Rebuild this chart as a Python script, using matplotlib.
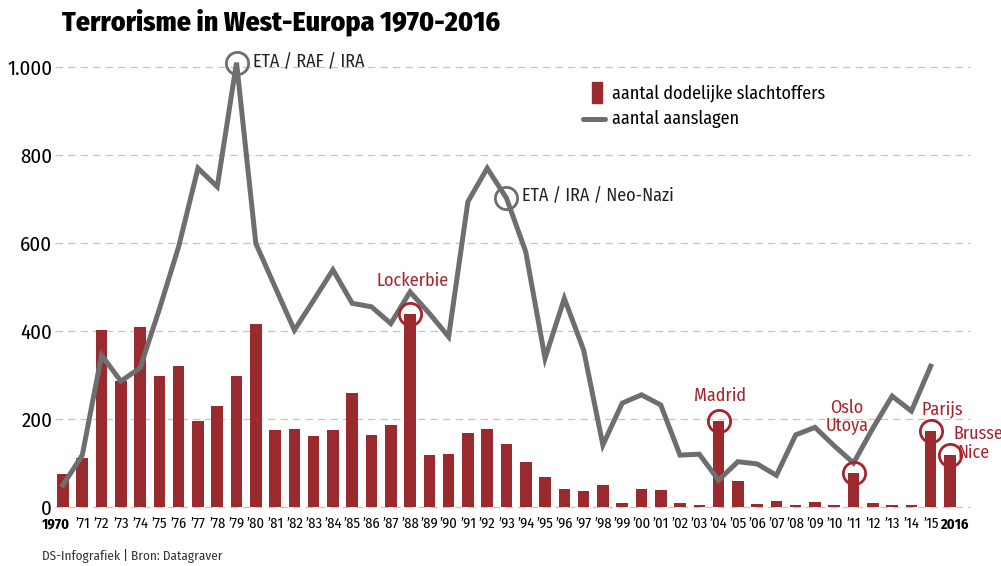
import matplotlib
matplotlib.use('Agg')
import matplotlib.pyplot as plt
from matplotlib import font_manager
from matplotlib.patches import Rectangle
from matplotlib.lines import Line2D

# pick a condensed sans if one is installed
installed = {f.name for f in font_manager.fontManager.ttflist}
font = 'DejaVu Sans'
for cand in ['Fira Sans Condensed', 'Barlow Semi Condensed', 'Roboto Condensed',
             'Archivo Narrow', 'PT Sans Narrow', 'Liberation Sans Narrow', 'Roboto']:
    if cand in installed:
        font = cand
        break
plt.rcParams['font.family'] = [font, 'DejaVu Sans']

# Data
years = list(range(1970, 2017))
deaths = [75, 111, 402, 286, 409, 298, 320, 195, 230, 298,
          416, 175, 177, 161, 175, 259, 164, 186, 439, 118,
          120, 168, 177, 143, 103, 68, 40, 37, 51, 10,
          40, 38, 8, 4, 195, 59, 6, 14, 5, 11,
          5, 78, 8, 4, 4, 172, 118]
attack_years = list(range(1970, 2016))
attacks = [50, 118, 345, 286, 316, 450, 592, 770, 728, 1010,
           599, 500, 402, 470, 539, 463, 455, 417, 489, 440,
           387, 694, 770, 702, 580, 338, 474, 357, 141, 236,
           255, 232, 118, 120, 61, 103, 98, 72, 164, 181,
           139, 100, 179, 252, 218, 320]
tick_labels = ['1970'] + ['\u2019%02d' % (y % 100) for y in years[1:-1]] + ['2016']

red = '#a8232b'
bar_red = '#992b2e'
grey = '#6e6e6e'

fig = plt.figure(figsize=(10.01, 5.66), dpi=100)
ax = fig.add_axes([55 / 1001, 56 / 566, 915 / 1001, 450 / 566])

ax.bar(years, deaths, width=0.6, color=bar_red, zorder=2)
ax.plot(attack_years, attacks, color=grey, linewidth=3.6, solid_joinstyle='miter', zorder=3)

ax.set_xlim(1969.585, 2017.04)
ax.set_ylim(-6.8, 1016)
ax.set_yticks([0, 200, 400, 600, 800, 1000])
ax.set_yticklabels(['0', '200', '400', '600', '800', '1.000'], fontsize=15)
ax.set_xticks(years)
# first and last year are bold and nudged outwards, drawn separately
ax.set_xticklabels([''] + tick_labels[1:-1] + [''], fontsize=10.5)
for yr, lab, dx in ((years[0], tick_labels[0], -5), (years[-1], tick_labels[-1], 3)):
    ax.annotate(lab, xy=(yr, 0), xycoords=ax.get_xaxis_transform(), xytext=(dx, -5.5),
                textcoords='offset points', ha='center', va='top', fontsize=10.5, fontweight='bold')
ax.tick_params(length=0, pad=5)
ax.tick_params(axis='y', pad=2)
ax.grid(axis='y', color='#c4c4c4', linestyle=(0, (6, 4)), linewidth=0.9, zorder=0)
for s in ax.spines.values():
    s.set_visible(False)

# annotation circles
def ring(x, y, c):
    ax.plot([x], [y], 'o', ms=16, mfc='none', mec=c, mew=2, zorder=4, clip_on=False)

ring(1979, attacks[9], grey)
ring(1993, attacks[23], grey)
ring(1988, deaths[18], red)
ring(2004, deaths[34], red)
ring(2011, deaths[41], red)
ring(2015, deaths[45], red)
ring(2016, deaths[46], red)

fs = 13
ax.text(1979.85, 1011, 'ETA / RAF / IRA', ha='left', va='center', fontsize=fs, color='#222222')
ax.text(1993.81, 707, 'ETA / IRA / Neo-Nazi', ha='left', va='center', fontsize=fs, color='#222222')
ax.text(1988.15, 514, 'Lockerbie', ha='center', va='center', fontsize=fs, color=red)
ax.text(2004.08, 252, 'Madrid', ha='center', va='center', fontsize=fs, color=red)
ax.text(2010.66, 205, 'Oslo\nUtoya', ha='center', va='center', fontsize=fs, color=red, linespacing=0.95)
ax.text(2015.6, 223, 'Parijs', ha='center', va='center', fontsize=fs, color=red)
ax.text(2016.16, 166, 'Brussel', ha='left', va='center', fontsize=fs, color=red, clip_on=False)
ax.text(2016.37, 124, 'Nice', ha='left', va='center', fontsize=fs, color=red, clip_on=False)

# legend
fig.patches.append(Rectangle((592 / 1001, 1 - 103 / 566), 10 / 1001, 21 / 566,
                             transform=fig.transFigure, color=bar_red))
fig.lines.append(Line2D([583 / 1001, 605 / 1001], [1 - 119 / 566] * 2, transform=fig.transFigure,
                        color=grey, linewidth=3.6, solid_capstyle='round'))
fig.text(612 / 1001, 1 - 93 / 566, 'aantal dodelijke slachtoffers', ha='left', va='center', fontsize=fs)
fig.text(612 / 1001, 1 - 119 / 566, 'aantal aanslagen', ha='left', va='center', fontsize=fs)

# title and source
fig.text(62 / 1001, 1 - 22 / 566, 'Terrorisme in West-Europa 1970-2016', ha='left', va='center',
         fontsize=20, fontweight=800)
fig.text(42 / 1001, 1 - 556 / 566, 'DS-Infografiek | Bron: Datagraver', ha='left', va='center',
         fontsize=9.5, color='#333333')

fig.savefig('out.png', dpi=100, facecolor='white')
